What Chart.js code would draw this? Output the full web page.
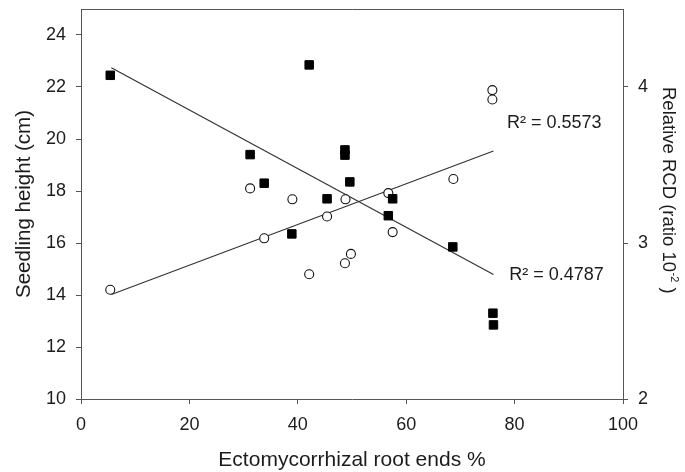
<!DOCTYPE html>
<html>
<head>
<meta charset="utf-8">
<script src="https://cdn.jsdelivr.net/npm/chart.js@4.4.1/dist/chart.umd.min.js"></script>
<style>
  html, body { margin: 0; padding: 0; background: #fff; }
  #wrap { width: 685px; height: 472px; position: relative; }
</style>
</head>
<body>
<div id="wrap"><canvas id="c" width="685" height="472"></canvas></div>
<script>
// ---- data ----
const squareX = [5.4, 31.2, 33.8, 38.9, 42.1, 45.4, 48.7, 48.7, 49.6, 56.7, 57.5, 68.6, 76.0, 76.1];
const seedlingHeight = [22.45, 19.4, 18.3, 16.35, 22.85, 17.7, 19.58, 19.38, 18.35, 17.05, 17.7, 15.85, 13.3, 12.85];

const circleX = [5.4, 31.2, 33.8, 39.0, 42.1, 45.4, 48.7, 48.8, 49.8, 56.7, 57.5, 68.7, 75.9, 75.9];
const relativeRCD = [2.70, 3.35, 3.03, 3.28, 2.80, 3.17, 2.87, 3.28, 2.93, 3.32, 3.07, 3.41, 3.98, 3.92];

// trend line end points
const heightTrendX = [5.6, 76.1];
const heightTrendY = [22.74, 14.79];
const rcdTrendX = [5.6, 76.1];
const rcdTrendY = [2.67, 3.59];

const r2Texts = ['R\u00B2 = 0.5573', 'R\u00B2 = 0.4787'];

const xTicks = [0, 20, 40, 60, 80, 100];
const leftTicks = [10, 12, 14, 16, 18, 20, 22, 24];
const rightTicks = [2, 3, 4];

const rightTitleMain = 'Relative RCD (ratio 10';
const rightTitleSup = '-2';
const rightTitleEnd = ' )';

const FONT = '"Liberation Sans", Arial, Helvetica, sans-serif';
const AXIS = '#555555';
const TEXT = '#1c1c1c';

const pts = (xs, ys) => xs.map((x, i) => ({ x: x, y: ys[i] }));

const textPlugin = {
  id: 'texts',
  afterDatasetsDraw(chart, args, opts) {
    const ctx = chart.ctx;
    const xs = chart.scales.x, ys = chart.scales.y;
    const ca = chart.chartArea;
    ctx.save();
    // R² labels
    ctx.font = '18px ' + FONT;
    ctx.fillStyle = TEXT;
    ctx.textAlign = 'left';
    ctx.textBaseline = 'middle';
    opts.anchors.forEach((a, i) => {
      ctx.fillText(r2Texts[i], xs.getPixelForValue(a[0]), ys.getPixelForValue(a[1]));
    });
    // top frame line
    ctx.strokeStyle = AXIS;
    ctx.lineWidth = 1;
    ctx.beginPath();
    ctx.moveTo(ca.left, Math.round(ca.top) + 0.5);
    ctx.lineTo(ca.right + 0.5, Math.round(ca.top) + 0.5);
    ctx.stroke();
    // right axis title with superscript
    ctx.translate(ca.right + opts.rightTitleDx, ca.top + opts.rightTitleDy);
    ctx.rotate(Math.PI / 2);
    ctx.textAlign = 'left';
    ctx.textBaseline = 'alphabetic';
    ctx.font = '18.5px ' + FONT;
    ctx.fillText(rightTitleMain, 0, 0);
    let w = ctx.measureText(rightTitleMain).width;
    ctx.font = '11px ' + FONT;
    ctx.fillText(rightTitleSup, w + 0.5, -8);
    w += ctx.measureText(rightTitleSup).width + 0.5;
    ctx.font = '18.5px ' + FONT;
    ctx.fillText(rightTitleEnd, w, 0);
    ctx.restore();
  }
};

const tickFix = (list) => (scale) => {
  scale.ticks = list.map(v => ({ value: v }));
};
const noPad = (s) => {
  s.paddingTop = 0; s.paddingBottom = 0; s.paddingLeft = 0; s.paddingRight = 0;
};

new Chart(document.getElementById('c'), {
  type: 'scatter',
  data: {
    datasets: [
      {
        label: 'Seedling height',
        data: pts(squareX, seedlingHeight),
        yAxisID: 'y',
        pointStyle: 'rect',
        pointRadius: 6,
        pointHoverRadius: 6,
        backgroundColor: '#000',
        borderColor: '#000',
        borderWidth: 1
      },
      {
        label: 'Relative RCD',
        data: pts(circleX, relativeRCD),
        yAxisID: 'y2',
        pointStyle: 'circle',
        pointRadius: 4.5,
        pointHoverRadius: 4.5,
        backgroundColor: '#fff',
        borderColor: '#111',
        borderWidth: 1.1
      },
      {
        type: 'line',
        label: 'Height trend',
        data: pts(heightTrendX, heightTrendY),
        yAxisID: 'y',
        showLine: true,
        pointRadius: 0,
        borderColor: '#333',
        borderWidth: 1.2,
        fill: false
      },
      {
        type: 'line',
        label: 'RCD trend',
        data: pts(rcdTrendX, rcdTrendY),
        yAxisID: 'y2',
        showLine: true,
        pointRadius: 0,
        borderColor: '#333',
        borderWidth: 1.2,
        fill: false
      }
    ]
  },
  options: {
    responsive: false,
    animation: false,
    events: [],
    layout: { padding: { top: 9, left: 0, right: 0, bottom: 0 } },
    plugins: {
      legend: { display: false },
      tooltip: { enabled: false },
      texts: { anchors: [[78.6, 20.6], [79.0, 14.75]], rightTitleDx: 40, rightTitleDy: 78 }
    },
    scales: {
      x: {
        type: 'linear',
        position: 'bottom',
        min: 0, max: 100,
        afterBuildTicks: tickFix(xTicks),
        afterFit: (s) => { s.height = 73; noPad(s); },
        grid: { drawOnChartArea: false, drawTicks: true, tickLength: 5, color: AXIS, tickColor: AXIS },
        border: { color: AXIS, width: 1 },
        ticks: { padding: 10, color: TEXT, font: { family: FONT, size: 18 }, maxRotation: 0 },
        title: {
          display: true,
          text: 'Ectomycorrhizal root ends %',
          color: TEXT,
          font: { family: FONT, size: 21, lineHeight: 1.1 },
          padding: { top: 0, bottom: 0 }
        }
      },
      y: {
        type: 'linear',
        position: 'left',
        min: 10, max: 25,
        afterBuildTicks: tickFix(leftTicks),
        afterFit: (s) => { s.width = 81; noPad(s); },
        grid: { drawOnChartArea: false, drawTicks: true, tickLength: 5, color: AXIS, tickColor: AXIS },
        border: { color: AXIS, width: 1 },
        ticks: { padding: 10, color: TEXT, font: { family: FONT, size: 18 } },
        title: {
          display: true,
          text: 'Seedling height (cm)',
          color: TEXT,
          font: { family: FONT, size: 20.5 },
          padding: { top: 12, bottom: 0 }
        }
      },
      y2: {
        type: 'linear',
        position: 'right',
        min: 2, max: 4.5,
        afterBuildTicks: tickFix(rightTicks),
        afterFit: (s) => { s.width = 62; noPad(s); },
        grid: { drawOnChartArea: false, drawTicks: true, tickLength: 5, color: AXIS, tickColor: AXIS },
        border: { color: AXIS, width: 1 },
        ticks: { padding: 10, color: TEXT, font: { family: FONT, size: 18 } },
        title: { display: false }
      }
    }
  },
  plugins: [textPlugin]
});
</script>
</body>
</html>
